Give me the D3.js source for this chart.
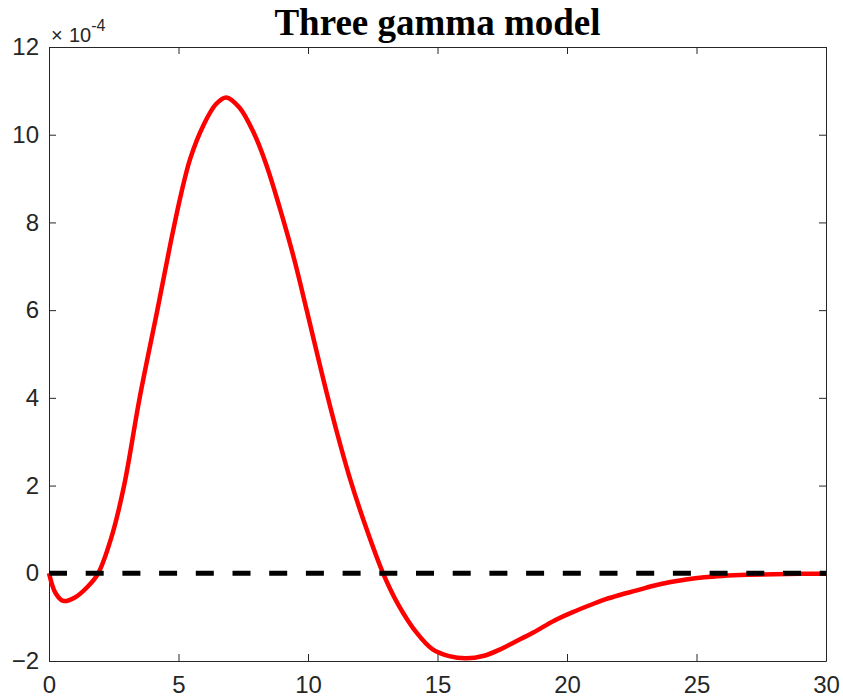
<!DOCTYPE html>
<html>
<head>
<meta charset="utf-8">
<script src="https://cdn.jsdelivr.net/npm/d3@7"></script>
<style>
  body { margin: 0; background: #fff; }
  svg { display: block; }
</style>
</head>
<body>
<div id="chart"></div>
<script>
// curve, values in units of 1e-4
var tVals = [0, 0.25, 0.55, 1.0, 1.5, 1.9, 2.4, 2.9, 3.5, 4.2, 4.7, 5.1, 5.45, 5.95, 6.45,
  6.85, 7.35, 7.9, 8.4, 8.9, 9.45, 9.95, 10.6, 11.1, 11.6, 12.15, 12.9, 13.5, 14.2, 14.8,
  15.45, 16.1, 16.8, 17.4, 18.0, 18.7, 19.5, 20.2, 21.0, 21.5, 22.0, 22.7, 23.3, 24.0,
  24.6, 25.3, 26.0, 27.0, 28.0, 29.0, 30.0];
var hrfVals = [0, -0.45, -0.63, -0.55, -0.3, 0, 0.8, 2.0, 4.0, 6.05, 7.55, 8.65, 9.45, 10.2, 10.7,
  10.85, 10.62, 10.05, 9.3, 8.35, 7.2, 6.0, 4.4, 3.25, 2.2, 1.2, 0, -0.73, -1.36, -1.73,
  -1.89, -1.94, -1.88, -1.74, -1.56, -1.35, -1.08, -0.89, -0.7, -0.59, -0.5, -0.39, -0.29, -0.2,
  -0.14, -0.09, -0.06, -0.035, -0.02, -0.012, -0.008];
var baseT = [0, 30];
var baseVals = [0, 0];
var xTicks = [0, 5, 10, 15, 20, 25, 30];
var yTicks = [-2, 0, 2, 4, 6, 8, 10, 12];
var titleText = "Three gamma model";

var width = 843,
  height = 700;
var margin = { top: 47, right: 17, bottom: 39, left: 49 };
var w = width - margin.left - margin.right,
  h = height - margin.top - margin.bottom;

var svg = d3
  .select("#chart")
  .append("svg")
  .attr("width", width)
  .attr("height", height);

var g = svg.append("g").attr("transform", `translate(${margin.left}, ${margin.top})`);

var x = d3.scaleLinear().domain([0, 30]).range([0, w]);
var y = d3.scaleLinear().domain([-2, 12]).range([h, 0]);

var axisColor = "#262626";
var tickFont = "'Liberation Sans', Arial, sans-serif";

// axes: ticks inside, box on
var bottomAxis = g
  .append("g")
  .attr("transform", `translate(0, ${h})`)
  .call(d3.axisBottom(x).tickValues(xTicks).tickSize(-7).tickPadding(15).tickSizeOuter(0));
var topAxis = g
  .append("g")
  .call(d3.axisTop(x).tickValues(xTicks).tickSize(-7).tickFormat("").tickSizeOuter(0));
var leftAxis = g
  .append("g")
  .call(d3.axisLeft(y).tickValues(yTicks).tickSize(-7).tickPadding(10).tickSizeOuter(0));
var rightAxis = g
  .append("g")
  .attr("transform", `translate(${w}, 0)`)
  .call(d3.axisRight(y).tickValues(yTicks).tickSize(-7).tickFormat("").tickSizeOuter(0));

[bottomAxis, topAxis, leftAxis, rightAxis].forEach(function (a) {
  a.select(".domain").attr("stroke", axisColor).attr("stroke-width", 1);
  a.selectAll(".tick line").attr("stroke", axisColor);
  a.selectAll(".tick text")
    .attr("fill", axisColor)
    .style("font-family", tickFont)
    .style("font-size", "24px");
});

var line = d3
  .line()
  .x(function (d) { return x(d[0]); })
  .y(function (d) { return y(d[1]); })
  .curve(d3.curveCatmullRom.alpha(0.5));

g.append("path")
  .datum(d3.zip(tVals, hrfVals))
  .attr("fill", "none")
  .attr("stroke", "#ff0000")
  .attr("stroke-width", 4.5)
  .attr("stroke-linejoin", "round")
  .attr("d", line);

g.append("path")
  .datum(d3.zip(baseT, baseVals))
  .attr("fill", "none")
  .attr("stroke", "#000")
  .attr("stroke-width", 5)
  .attr("stroke-dasharray", "18,18.7")
  .attr("d", d3.line().x(function (d) { return x(d[0]); }).y(function (d) { return y(d[1]); }));

// exponent label
var expo = svg
  .append("text")
  .attr("y", 42)
  .attr("fill", axisColor)
  .style("font-family", tickFont)
  .style("font-size", "20px");
expo.append("tspan").attr("x", margin.left + 2).text("\u00d7");
expo.append("tspan").attr("x", margin.left + 20).text("10");
expo.append("tspan").attr("dy", -11).style("font-size", "16px").text("-4");

// title
svg
  .append("text")
  .attr("x", margin.left + w / 2)
  .attr("y", 35)
  .attr("text-anchor", "middle")
  .style("font-family", "'Liberation Serif', 'Times New Roman', serif")
  .style("font-weight", "bold")
  .style("font-size", "37px")
  .text(titleText);
</script>
</body>
</html>
